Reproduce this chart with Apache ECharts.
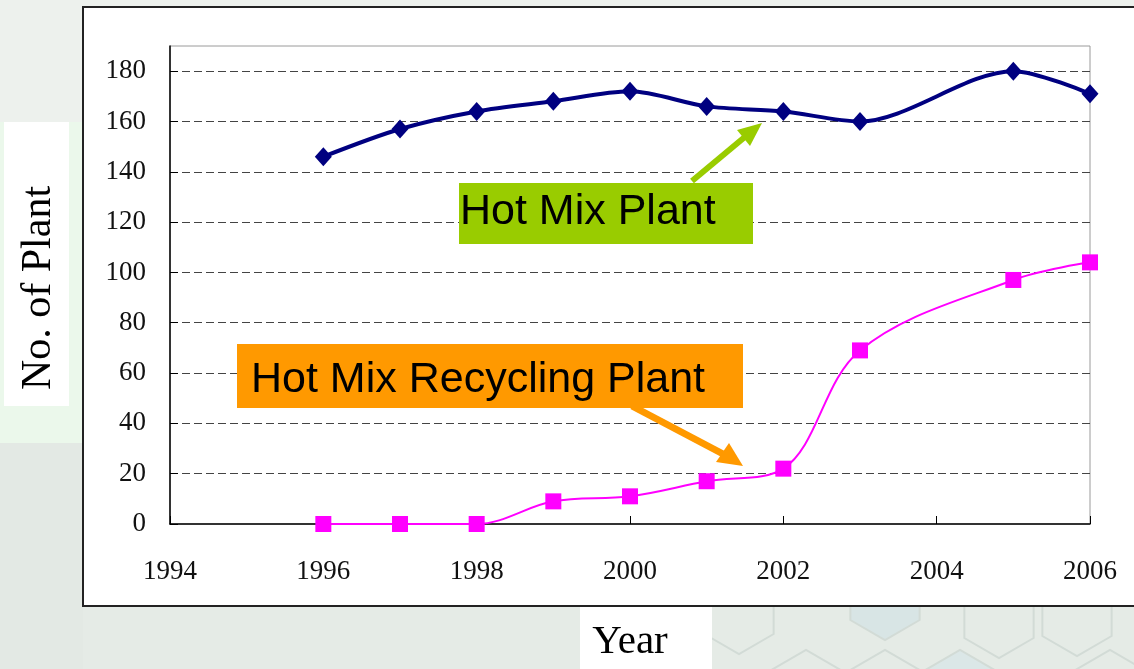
<!DOCTYPE html>
<html>
<head>
<meta charset="utf-8">
<script src="https://cdn.jsdelivr.net/npm/echarts@6/dist/echarts.min.js"></script>
<style>
  html, body { margin: 0; padding: 0; background: #e5ebe6; }
  #plantChart { width: 1134px; height: 669px; }
</style>
</head>
<body>
<div id="plantChart"></div>
<script>
// data
var years = [1996, 1997, 1998, 1999, 2000, 2001, 2002, 2003, 2005, 2006];
var hotMixPlant = [146, 157, 164, 168, 172, 166, 164, 160, 180, 171];
var recyclingPlant = [0, 0, 0, 9, 11, 17, 22, 69, 97, 104];

var xAxisMin = 1994, xAxisMax = 2006, xAxisStep = 2;
var yAxisMin = 0, yAxisMax = 190, yAxisStep = 20;

function pairs(values) {
  return years.map(function (y, i) { return [y, values[i]]; });
}

// hexagon outline for the slide decoration
function hex(cx, cy, r) {
  var pts = [];
  for (var i = 0; i < 6; i++) {
    var a = Math.PI / 6 + i * Math.PI / 3;
    pts.push([cx + r * Math.cos(a), cy + r * Math.sin(a)]);
  }
  return pts;
}

var chart = echarts.init(document.getElementById('plantChart'));

var serif = '"Liberation Serif", "Times New Roman", serif';
var sans = '"Liberation Sans", Arial, sans-serif';

var hexes = [
  [739, 614, 40, null], [885, 600, 40, '#d8e5e5'], [999, 618, 40, null], [1077, 616, 40, null],
  [806, 690, 40, null], [885, 690, 40, null], [960, 690, 40, '#dbe7e7'], [1110, 690, 40, null]
].map(function (h) {
  return {
    type: 'polygon', z: -9, silent: true,
    shape: { points: hex(h[0], h[1], h[2]) },
    style: { fill: h[3] || 'transparent', stroke: '#d2dbd6', lineWidth: 2 }
  };
});

var option = {
  animation: false,
  backgroundColor: '#e5ebe6',
  grid: {
    left: 170, right: 44, top: 46, bottom: 145,
    show: true,
    borderColor: '#9a9a9a',
    borderWidth: 1
  },
  xAxis: {
    type: 'value',
    min: xAxisMin, max: xAxisMax, interval: xAxisStep,
    axisLine: { show: true, onZero: false, lineStyle: { color: '#000', width: 1.5 } },
    axisTick: { show: true, inside: true, length: 8, lineStyle: { color: '#000' } },
    axisLabel: {
      color: '#111', fontFamily: serif, fontSize: 27, margin: 34,
      formatter: function (v) { return String(v); }
    },
    splitLine: { show: false }
  },
  yAxis: {
    type: 'value',
    min: yAxisMin, max: yAxisMax, interval: yAxisStep,
    axisLine: { show: true, lineStyle: { color: '#000', width: 1.5 } },
    axisTick: { show: true, inside: true, length: 8, lineStyle: { color: '#000' } },
    axisLabel: {
      color: '#111', fontFamily: serif, fontSize: 27, margin: 24,
      showMaxLabel: false
    },
    splitLine: {
      show: true,
      showMinLine: false,
      showMaxLine: false,
      lineStyle: { color: '#444', width: 1, type: [8, 4] }
    }
  },
  graphic: [
    { type: 'rect', z: -10, silent: true, shape: { x: 0, y: 0, width: 1134, height: 122 }, style: { fill: '#edf1ed' } },
    { type: 'rect', z: -10, silent: true, shape: { x: 0, y: 122, width: 83, height: 321 }, style: { fill: '#ebf8eb' } },
    { type: 'rect', z: -10, silent: true, shape: { x: 0, y: 443, width: 83, height: 226 }, style: { fill: '#e3e9e4' } }
  ].concat(hexes).concat([
    // white chart panel
    { type: 'rect', z: -5, silent: true, shape: { x: 83, y: 7, width: 1060, height: 599 }, style: { fill: '#ffffff', stroke: '#222', lineWidth: 2 } },
    // y axis title
    { type: 'rect', z: -5, silent: true, shape: { x: 4, y: 122, width: 65, height: 284 }, style: { fill: '#ffffff' } },
    {
      type: 'text', z: 50, x: 39, y: 288, rotation: Math.PI / 2,
      style: { text: 'No. of Plant', font: '42px ' + serif, fill: '#000', align: 'center', verticalAlign: 'middle' }
    },
    // x axis title
    { type: 'rect', z: -5, silent: true, shape: { x: 580, y: 607, width: 132, height: 62 }, style: { fill: '#ffffff' } },
    {
      type: 'text', z: 50, x: 630, y: 642,
      style: { text: 'Year', font: '41px ' + serif, fill: '#000', align: 'center', verticalAlign: 'middle' }
    },
    // green callout
    { type: 'line', z: 50, shape: { x1: 692, y1: 181, x2: 746, y2: 136 }, style: { stroke: '#99cc00', lineWidth: 6 } },
    { type: 'polygon', z: 50, shape: { points: [[762, 123], [737, 130], [750, 146]] }, style: { fill: '#99cc00' } },
    { type: 'rect', z: 60, shape: { x: 459, y: 183, width: 294, height: 61 }, style: { fill: '#99cc00' } },
    {
      type: 'text', z: 61, x: 460, y: 212,
      style: { text: 'Hot Mix Plant', font: '43px ' + sans, fill: '#000', align: 'left', verticalAlign: 'middle' }
    },
    // orange callout
    { type: 'line', z: 50, shape: { x1: 632, y1: 406, x2: 725, y2: 455 }, style: { stroke: '#ff9900', lineWidth: 7 } },
    { type: 'polygon', z: 50, shape: { points: [[743, 466], [716, 462], [729, 443]] }, style: { fill: '#ff9900' } },
    { type: 'rect', z: 60, shape: { x: 237, y: 344, width: 506, height: 64 }, style: { fill: '#ff9900' } },
    {
      type: 'text', z: 61, x: 251, y: 380,
      style: { text: 'Hot Mix Recycling Plant', font: '43px ' + sans, fill: '#000', align: 'left', verticalAlign: 'middle' }
    }
  ]),
  series: [
    {
      name: 'Hot Mix Plant',
      type: 'line',
      smooth: 0.3,
      symbol: 'diamond',
      symbolSize: [17, 19],
      lineStyle: { color: '#000080', width: 4 },
      itemStyle: { color: '#000080' },
      data: pairs(hotMixPlant)
    },
    {
      name: 'Hot Mix Recycling Plant',
      type: 'line',
      smooth: 0.35,
      symbol: 'rect',
      symbolSize: 16,
      lineStyle: { color: '#ff00ff', width: 2 },
      itemStyle: { color: '#ff00ff' },
      data: pairs(recyclingPlant)
    }
  ]
};

chart.setOption(option);
</script>
</body>
</html>
